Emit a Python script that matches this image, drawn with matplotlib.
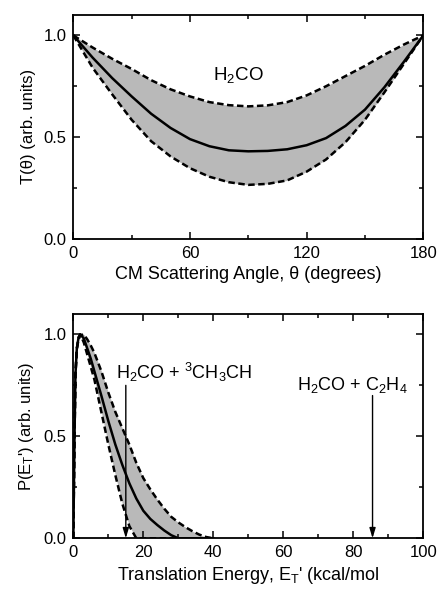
import numpy as np
import matplotlib
matplotlib.use('Agg')
import matplotlib.pyplot as plt
from matplotlib.ticker import MultipleLocator, FormatStrFormatter

plt.rcParams['font.family'] = ['Liberation Sans', 'DejaVu Sans']
plt.rcParams['mathtext.fontset'] = 'custom'
plt.rcParams['mathtext.rm'] = 'Liberation Sans'
plt.rcParams['mathtext.it'] = 'Liberation Sans:italic'

# top panel: angular distribution T(theta)
theta = [0, 10, 20, 30, 40, 50, 60, 70, 80, 90, 100, 110, 120, 130, 140, 150, 160, 170, 180]
t_best = [1.00, 0.89, 0.79, 0.70, 0.615, 0.545, 0.49, 0.455, 0.435, 0.43, 0.432, 0.44,
          0.46, 0.495, 0.555, 0.635, 0.745, 0.87, 1.00]
t_upper = [1.00, 0.94, 0.885, 0.835, 0.78, 0.735, 0.70, 0.672, 0.657, 0.651, 0.656, 0.672,
           0.705, 0.75, 0.80, 0.85, 0.905, 0.955, 1.00]
t_lower = [1.00, 0.84, 0.71, 0.585, 0.48, 0.405, 0.347, 0.305, 0.278, 0.265, 0.27, 0.287,
           0.33, 0.39, 0.475, 0.585, 0.72, 0.86, 1.00]

# bottom panel: translational energy distribution P(E)
energy = [0, 0.3, 0.6, 1.0, 1.5, 2.0, 3, 4, 5, 6, 8, 10, 12, 14, 16, 18, 20, 22, 24, 26,
          28, 30, 32, 34, 36, 38, 40]
p_best = [0, 0.45, 0.8, 0.93, 0.985, 1.0, 0.98, 0.93, 0.88, 0.82, 0.70, 0.575, 0.46, 0.36,
          0.27, 0.195, 0.135, 0.095, 0.065, 0.038, 0.015, 0, 0, 0, 0, 0, 0]
p_upper = [0, 0.45, 0.8, 0.93, 0.975, 0.995, 1.0, 0.975, 0.945, 0.91, 0.82, 0.715, 0.62,
           0.54, 0.46, 0.37, 0.295, 0.24, 0.19, 0.145, 0.105, 0.078, 0.055, 0.035, 0.018,
           0.006, 0]
p_lower = [0, 0.45, 0.8, 0.93, 0.985, 1.0, 0.96, 0.90, 0.84, 0.78, 0.62, 0.46, 0.31, 0.17,
           0.06, 0, 0, 0, 0, 0, 0, 0, 0, 0, 0, 0, 0]

# product channel thresholds (arrows)
arrow_x = [15, 85.5]
arrow_top = [0.75, 0.70]
arrow_labels = ['H$_\\mathregular{2}$CO + $^\\mathregular{3}$CH$_\\mathregular{3}$CH',
                'H$_\\mathregular{2}$CO + C$_\\mathregular{2}$H$_\\mathregular{4}$']
label_pos = [(31.7, 0.78), (79.8, 0.725)]

tick_fs = 12
lab_fs = 13
gray = '#b9b9b9'
dash = (0, (2.6, 1.4))

fig = plt.figure(figsize=(4.38, 5.91), dpi=100)
ax1 = fig.add_axes([0.1674, 0.596, 0.799, 0.3785])
ax2 = fig.add_axes([0.1674, 0.0892, 0.799, 0.3795])

for ax in (ax1, ax2):
    ax.tick_params(which='both', direction='in', top=True, right=True, width=1.1,
                   labelsize=tick_fs, pad=5)
    ax.tick_params(which='major', length=5)
    ax.tick_params(which='minor', length=2.8)
    for s in ax.spines.values():
        s.set_linewidth(1.3)
    ax.set_ylim(0, 1.1)
    ax.yaxis.set_major_locator(MultipleLocator(0.5))
    ax.yaxis.set_minor_locator(MultipleLocator(0.25))
    ax.yaxis.set_major_formatter(FormatStrFormatter('%.1f'))

# top
ax1.fill_between(theta, t_lower, t_upper, color=gray, lw=0)
ax1.plot(theta, t_upper, color='black', lw=1.8, ls=dash)
ax1.plot(theta, t_lower, color='black', lw=1.8, ls=dash)
ax1.plot(theta, t_best, color='black', lw=1.8)
ax1.set_xlim(0, 180)
ax1.xaxis.set_major_locator(MultipleLocator(60))
ax1.xaxis.set_minor_locator(MultipleLocator(30))
ax1.set_xlabel('CM Scattering Angle, θ (degrees)', fontsize=lab_fs, labelpad=3.5)
ax1.set_ylabel('T(θ) (arb. units)', fontsize=12, labelpad=5)
ax1.text(84.7, 0.78, 'H$_\\mathregular{2}$CO', fontsize=13.5, ha='center', va='baseline')

# bottom
ax2.fill_between(energy, p_lower, p_upper, color=gray, lw=0)
ax2.plot(energy, p_upper, color='black', lw=1.8, ls=dash)
ax2.plot(energy, p_lower, color='black', lw=1.8, ls=dash)
ax2.plot(energy, p_best, color='black', lw=1.8)
ax2.set_xlim(0, 100)
ax2.xaxis.set_major_locator(MultipleLocator(20))
ax2.xaxis.set_minor_locator(MultipleLocator(10))
ax2.set_xlabel("Translation Energy, E$_\\mathregular{T}$' (kcal/mol", fontsize=lab_fs, labelpad=3.5)
ax2.set_ylabel("P(E$_\\mathregular{T}$') (arb. units)", fontsize=12, labelpad=5)

for xa, ya, lab, (tx, ty) in zip(arrow_x, arrow_top, arrow_labels, label_pos):
    ax2.annotate('', xy=(xa, 0), xytext=(xa, ya),
                 arrowprops=dict(arrowstyle='-|>,head_length=0.6,head_width=0.18',
                                 color='black', lw=1.0, shrinkA=0, shrinkB=0))
    ax2.text(tx, ty, lab, fontsize=13, ha='center', va='baseline')

fig.savefig('out.png', dpi=100)
